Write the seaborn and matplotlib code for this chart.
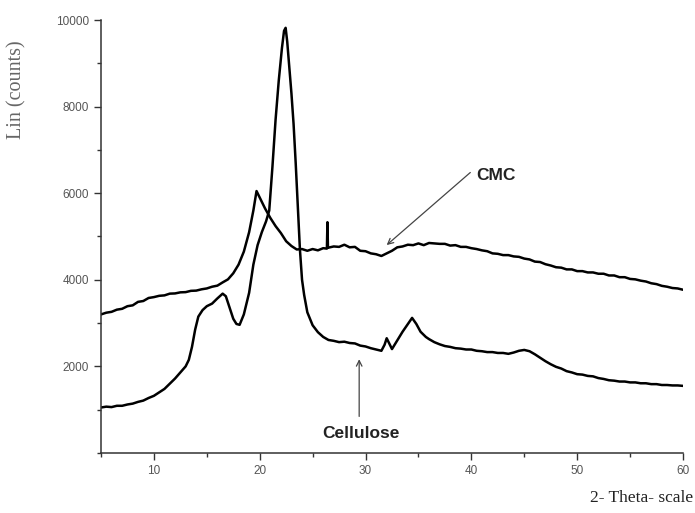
import pandas as pd
import matplotlib.pyplot as plt
import seaborn as sns
from matplotlib.ticker import MultipleLocator

cmc_2theta = [5.0, 5.5, 6.0, 6.5, 7.0, 7.5, 8.0, 8.5, 9.0, 9.5, 10.0, 10.5, 11.0, 11.5,
              12.0, 12.5, 13.0, 13.5, 14.0, 14.5, 15.0, 15.5, 16.0, 16.5, 17.0, 17.5,
              18.0, 18.5, 19.0, 19.4, 19.7, 20.0, 20.5, 21.0, 21.5, 22.0, 22.5, 23.0,
              23.5, 24.0, 24.5, 25.0, 25.5, 26.0, 26.35, 26.4, 26.45, 27.0, 27.5, 28.0,
              28.5, 29.0, 29.5, 30.0, 30.5, 31.0, 31.5, 32.0, 32.5, 33.0, 33.5, 34.0,
              34.5, 35.0, 35.5, 36.0, 36.5, 37.0, 37.5, 38.0, 38.5, 39.0, 39.5, 40.0,
              40.5, 41.0, 41.5, 42.0, 42.5, 43.0, 43.5, 44.0, 44.5, 45.0, 45.5, 46.0,
              46.5, 47.0, 47.5, 48.0, 48.5, 49.0, 49.5, 50.0, 50.5, 51.0, 51.5, 52.0,
              52.5, 53.0, 53.5, 54.0, 54.5, 55.0, 55.5, 56.0, 56.5, 57.0, 57.5, 58.0,
              58.5, 59.0, 59.5, 60.0]
cmc_counts = [3200, 3240, 3260, 3310, 3330, 3390, 3410, 3490, 3510, 3580, 3600, 3630,
              3640, 3680, 3685, 3710, 3715, 3745, 3750, 3780, 3800, 3840, 3865, 3940,
              4010, 4150, 4350, 4650, 5100, 5600, 6050, 5900, 5650, 5430, 5240, 5080,
              4890, 4780, 4700, 4710, 4670, 4710, 4680, 4730, 4720, 5330, 4740, 4770,
              4760, 4810, 4750, 4760, 4670, 4660, 4610, 4590, 4550, 4610, 4670, 4750,
              4770, 4810, 4800, 4840, 4800, 4850, 4840, 4830, 4830, 4790, 4800, 4760,
              4760, 4730, 4710, 4680, 4660, 4610, 4600, 4570, 4570, 4540, 4530, 4490,
              4470, 4420, 4410, 4360, 4330, 4290, 4280, 4240, 4240, 4200, 4200, 4170,
              4170, 4140, 4140, 4100, 4100, 4060, 4060, 4020, 4010, 3980, 3960, 3920,
              3900, 3860, 3840, 3810, 3800, 3770]

cel_2theta = [5.0, 5.5, 6.0, 6.5, 7.0, 7.5, 8.0, 8.5, 9.0, 9.5, 10.0, 10.5, 11.0, 11.5,
              12.0, 12.5, 13.0, 13.3, 13.6, 13.9, 14.2, 14.6, 15.0, 15.5, 16.0, 16.5,
              16.8, 17.1, 17.5, 17.8, 18.1, 18.5, 19.0, 19.4, 19.8, 20.2, 20.6, 20.9,
              21.2, 21.5, 21.8, 22.1, 22.3, 22.45, 22.6, 22.8, 23.0, 23.2, 23.4, 23.6,
              23.8, 24.0, 24.2, 24.5, 25.0, 25.5, 26.0, 26.5, 27.0, 27.5, 28.0, 28.5,
              29.0, 29.5, 30.0, 30.5, 31.0, 31.5, 31.8, 32.0, 32.2, 32.5, 33.0, 33.5,
              34.0, 34.4, 34.8, 35.2, 35.7, 36.0, 36.5, 37.0, 37.5, 38.0, 38.5, 39.0,
              39.5, 40.0, 40.5, 41.0, 41.5, 42.0, 42.5, 43.0, 43.5, 44.0, 44.5, 45.0,
              45.5, 46.0, 46.5, 47.0, 47.5, 48.0, 48.5, 49.0, 49.5, 50.0, 50.5, 51.0,
              51.5, 52.0, 52.5, 53.0, 53.5, 54.0, 54.5, 55.0, 55.5, 56.0, 56.5, 57.0,
              57.5, 58.0, 58.5, 59.0, 59.5, 60.0]
cel_counts = [1050, 1070, 1060, 1090, 1090, 1120, 1140, 1180, 1210, 1270, 1320, 1400,
              1480, 1600, 1720, 1860, 2000, 2150, 2450, 2850, 3150, 3300, 3390, 3450,
              3570, 3680, 3620, 3400, 3100, 2980, 2960, 3200, 3700, 4350, 4800, 5100,
              5350, 5600, 6600, 7700, 8600, 9350, 9750, 9820, 9500, 8900, 8300, 7600,
              6700, 5700, 4700, 4000, 3650, 3250, 2950, 2790, 2680, 2610, 2590, 2560,
              2570, 2540, 2530, 2480, 2460, 2420, 2390, 2360, 2500, 2650, 2550, 2400,
              2600, 2800, 2980, 3120, 2980, 2800, 2680, 2630, 2560, 2510, 2470, 2450,
              2420, 2410, 2390, 2390, 2360, 2350, 2330, 2330, 2310, 2310, 2290, 2320,
              2360, 2380, 2350, 2280, 2200, 2120, 2050, 1990, 1950, 1890, 1860, 1820,
              1810, 1780, 1770, 1730, 1710, 1680, 1670, 1650, 1650, 1630, 1630, 1610,
              1610, 1590, 1590, 1570, 1570, 1560, 1560, 1550]

xticks = [10, 20, 30, 40, 50, 60]
yticks = [2000, 4000, 6000, 8000, 10000]

df_cmc = pd.DataFrame({'theta': cmc_2theta, 'counts': cmc_counts})
df_cel = pd.DataFrame({'theta': cel_2theta, 'counts': cel_counts})

sns.set_style('ticks')
plt.rcParams['font.family'] = ['Liberation Sans', 'DejaVu Sans']
serif = ['Liberation Serif', 'DejaVu Serif']

fig = plt.figure(figsize=(6.95, 5.13), dpi=100)
ax = fig.add_axes([0.1453, 0.117, 0.8374, 0.844])

sns.lineplot(data=df_cmc, x='theta', y='counts', color='black', linewidth=1.8, ax=ax)
sns.lineplot(data=df_cel, x='theta', y='counts', color='black', linewidth=1.8, ax=ax)

ax.set_xlim(5, 60)
ax.set_ylim(0, 10000)
ax.set_xticks(xticks)
ax.set_yticks(yticks)
ax.xaxis.set_minor_locator(MultipleLocator(5))
ax.yaxis.set_minor_locator(MultipleLocator(1000))
ax.tick_params(which='both', direction='out', width=1, color='#333333',
               labelsize=8.5, labelcolor='#555555')
ax.tick_params(which='major', length=5)
ax.tick_params(which='minor', length=3)
sns.despine(ax=ax)
for s in ['left', 'bottom']:
    ax.spines[s].set_color('#333333')
    ax.spines[s].set_linewidth(1.1)

ax.set_xlabel('')
ax.set_ylabel('Lin (counts)', family=serif, fontsize=14.5, color='#666666')
ax.yaxis.set_label_coords(-0.128, 0.838)
fig.text(0.998, 0.03, '2- Theta- scale', family=serif,
         fontsize=12.5, ha='right', va='center', color='#222222')

# Anotações
ax.annotate('', xy=(31.8, 4760), xytext=(40.1, 6520),
            arrowprops=dict(arrowstyle='->', color='#444444', lw=0.9))
ax.text(40.5, 6400, 'CMC', fontsize=12.5, fontweight='bold', ha='left', va='center',
        color='#222222')
ax.annotate('', xy=(29.4, 2230), xytext=(29.4, 780),
            arrowprops=dict(arrowstyle='->', color='#444444', lw=0.9))
ax.text(29.6, 460, 'Cellulose', fontsize=12.5, fontweight='bold', ha='center',
        va='center', color='#222222')

plt.savefig('out.png', dpi=100)
plt.close()
